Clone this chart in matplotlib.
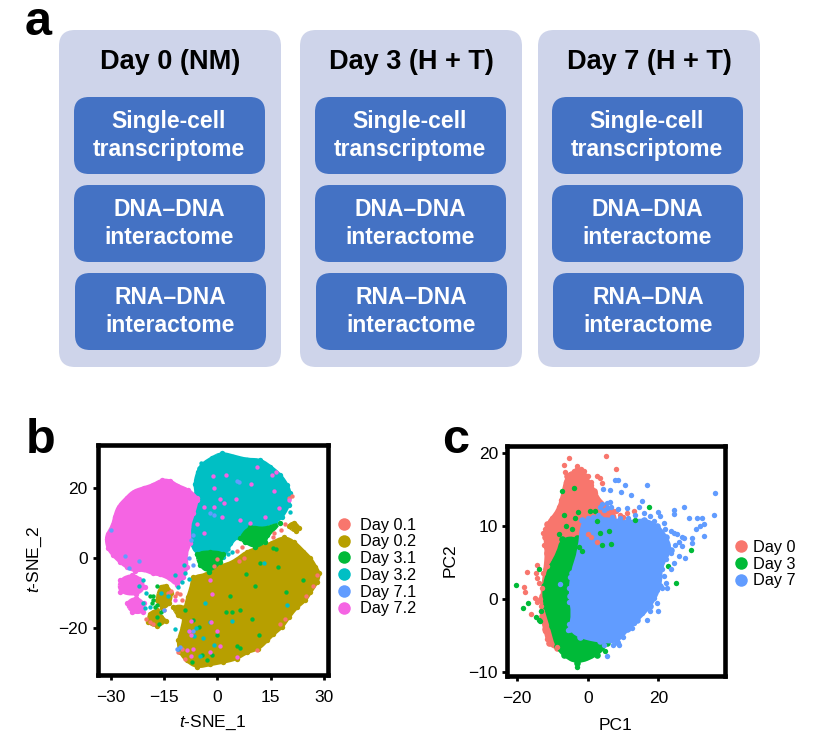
import matplotlib
matplotlib.use("Agg")
import matplotlib.pyplot as plt
from matplotlib.lines import Line2D
from matplotlib.patches import FancyBboxPatch, PathPatch
from matplotlib.path import Path

plt.rcParams['font.family'] = ['Liberation Sans', 'DejaVu Sans']
plt.rcParams['mathtext.fontset'] = 'custom'
plt.rcParams['mathtext.it'] = 'Liberation Sans:italic'
plt.rcParams['mathtext.rm'] = 'Liberation Sans'

W, H = 819, 748

# panel a text
columns = ["Day 0 (NM)", "Day 3 (H + T)", "Day 7 (H + T)"]
assays = ["Single-cell\ntranscriptome", "DNA\u2013DNA\ninteractome", "RNA\u2013DNA\ninteractome"]

# panel b, ggplot colours
b_labels = ["Day 0.1", "Day 0.2", "Day 3.1", "Day 3.2", "Day 7.1", "Day 7.2"]
b_colors = ["#F8766D", "#B79F00", "#00BA38", "#00BFC4", "#619CFF", "#F564E3"]

# dense clusters of panel b, outlines
magenta_main = [(-5.8, 17), (-8.2, 19.3), (-11.4, 20.5), (-13.3, 21.9), (-15.7, 22.1), (-18, 20.7), (-20.8, 19.8),
                (-23.6, 18.9), (-25.5, 17), (-27.8, 14.6), (-28.8, 11.7), (-29.3, 9.3), (-30.7, 6.9), (-31.2, 5.4),
                (-30.7, 2.7), (-29.3, 0.8), (-27.4, -1.1), (-25.5, -2.6), (-23.2, -3.7), (-20.8, -3.3), (-18, -4.5),
                (-16.1, -4.7), (-13.3, -5.9), (-11.4, -7.8), (-9.6, -5.4), (-8.6, -2.6), (-9.1, 1.2), (-7.7, 4.1),
                (-8.2, 8.9), (-6.8, 12.7), (-5.8, 16.5)]
magenta_low1 = [(-27.4, -6.4), (-24, -5), (-22, -6), (-20.5, -8.5), (-23, -10.5), (-27.5, -9.7)]
magenta_low2 = [(-25.5, -13), (-23, -11.5), (-20.8, -13), (-21, -15.5), (-24, -15.5)]
cyan_main = [(1.2, 29.8), (4.5, 28.9), (8.3, 27.9), (12, 27.9), (14.8, 26), (17.6, 23.6), (19.5, 20.8), (20.4, 18.4),
             (20, 15), (18.1, 11.7), (16.2, 10.3), (12.9, 9.3), (9.2, 7.4), (5.4, 6), (3.6, 4.1), (1.7, 0.3),
             (-2.1, 1.2), (-5.8, 1.2), (-7.2, 4.1), (-8.2, 7.9), (-7.2, 11.2), (-6.3, 14.6), (-5.8, 18.4),
             (-6.3, 21.2), (-5.4, 24.6), (-4.4, 26.5), (-1.6, 28.4)]
green_low = [(-5.8, 1.2), (-2, 1.6), (1.7, 1.2), (0.8, -1.1), (-2.5, -4), (-4.9, -2.1)]
green_right = [(6.4, 5.5), (9.2, 8.9), (13, 8), (17.6, 9.8), (13.9, 6.5), (13.4, 4.6), (10.6, 3.1), (7.8, 4.6)]
olive_main = [(18.6, 5.8), (21.4, 4.6), (24.2, 1.7), (26.1, -0.2), (27.5, -2.6), (28.6, -4.5), (28, -6.9), (26.1, -9.7),
              (24.7, -12.1), (22.3, -14), (20, -16.9), (18.1, -19.8), (15.7, -21.7), (13.9, -23.6), (11.5, -26),
              (8.2, -26.9), (5.4, -28.8), (1.7, -29.7), (-2.1, -30.4), (-5.8, -31.2), (-8.7, -29.3), (-10.5, -26.9),
              (-11, -23.6), (-9.6, -19.8), (-9.1, -14.9), (-8.2, -11.2), (-7.2, -8.3), (-6.8, -5.5), (-3, -5),
              (-0.2, -2.6), (2.6, -2.1), (5.4, -0.7), (8.3, 1.7), (12, 2.7), (15.3, 4.1)]
olive_small1 = [(20, 9), (21.5, 10), (23, 8.5), (22, 7.5)]
olive_small2 = [(-16, -8.5), (-14.5, -8), (-13, -10), (-13.5, -13), (-15.5, -14.5), (-17, -12)]
olive_small3 = [(-19, -16), (-17, -15), (-16, -17), (-14.5, -18), (-17, -19.5), (-19.5, -18.5)]
olive_tail = [(-12.5, -14), (-9, -14), (-9, -17.5), (-11, -16.5)]

# single cells of panel b
b_red = [(21, 17.5), (20.2, 17), (-13, -9.5), (-11.5, -10), (-10.5, -10.5), (-12, -11), (-14, -10), (-10, -12),
         (-15, -15), (-20, -17.5), (-19, -18.5), (-18, -19), (19, 9.5), (18, 8), (15.5, 6), (16, 7), (25, -11),
         (28, -5), (27, -8), (19, -17.5), (17.5, -19), (11, -26.5), (-10, -26), (-11, -27), (-9, -29), (7.5, 0),
         (6, -1), (0, -0.5), (-1, -2.5), (5.5, 2), (7, 3)]
b_green = [(12, -1.4), (17, -2.6), (7.9, -4.7), (10.6, -8), (24, -6.4), (19.3, -9.7), (3.6, -10.9), (4, -15.4),
           (2.4, -15.4), (6.4, -15), (9.6, -17.6), (11.6, -22), (5.4, -25.2), (6.4, -25.9), (-0.2, -22),
           (-1.6, -27.8), (-3, -29.2), (-7.2, -29.7), (-4.4, -27.8), (-5.3, -19.8), (-7, -17.9), (15.5, 2.9),
           (16.5, 2.5), (-17, -8), (-18, -12), (-18.5, -13), (-17.5, -14), (-19, -11), (-16, -15.5), (-17, -13.5),
           (-18, -11), (-16.5, -19), (-17, -17), (-9, -15)]
b_cyan = [(13, -1.5), (19.5, -13.5), (-3.5, -13), (-2, -18.5), (-8, -21), (-11, -26), (-6.5, -22.5), (-4, -23),
          (-5, -28), (-1, -25), (-6, -20), (4.2, -18), (-12, -20.5), (-21, -6.5), (-22, -8), (-20, -10), (-21, -13),
          (-20.5, -14.5), (-19, -14), (-16, -10), (-14, -11), (-8, -6), (-9, -4.5), (-12, -5), (-10, -7), (-11, -8.5),
          (-9.5, -2), (3, 2.5), (2.8, 3.5), (3, 1), (4, 1.7), (-4.5, 27), (-5.2, 25.5), (20.5, 13)]
b_blue = [(5.5, 21.8), (6, 21.5), (-2, 12.9), (-1, 12.3), (-7.5, 5), (-7, 6.5), (-30, 8), (-26, 0.5), (-25, -3),
          (-22, -1), (-8, 0), (-15, -15), (-7, -2), (-11.5, -26), (-10.5, -25.5), (-7, -21)]
b_magenta = [(-1.3, 23.4), (2.3, 23.6), (11, 25.8), (15.3, 23.6), (16.4, 24.4), (-1.1, 19.8), (0.8, 16.7), (1.9, 15.7),
             (5.3, 16.7), (9.5, 21), (15.8, 19), (20, 16.5), (17.2, 14.1), (13.4, 11.5), (9.2, 9.8), (6.4, 10.8),
             (1.2, 11.5), (-3.9, 7), (-5.8, 9.6), (-3.9, 14.6), (-1.1, 14.6), (-1.6, -10.4), (0.7, -25.2), (-7, -26),
             (-8.5, -26.5), (-7.5, -28), (-1.7, -18.5), (0, -21), (-2, -27), (5.5, -28.5), (-8, -21), (-7.5, -22),
             (-7.5, -18), (-12, -12), (-2, -6.5)]

# panel c
c_labels = ["Day 0", "Day 3", "Day 7"]
c_colors = ["#F8766D", "#00BA38", "#619CFF"]
red_body = [(-3, 17.6), (-0.7, 16.8), (1.7, 14.8), (3.6, 13.1), (7, 12), (8, 10.5), (3, 8),
            (-2, 3), (-6.8, -6.1), (-8.7, -6.8), (-11, -6.1), (-12, -4.2), (-12.9, -2.4), (-12.9, 0.3), (-11.9, 4),
            (-11.5, 6.3), (-12, 8.5), (-11.5, 10.2), (-8.2, 12), (-6.8, 14.5), (-5.8, 16.8)]
green_body = [(-3, 8.3), (-7.3, 8.1), (-8.2, 6.3), (-10.5, 4.4), (-12.4, 1.7), (-12, -1), (-10.1, -3.8), (-8.7, -6.5),
              (-6.8, -7.7), (-3, -8.8), (2.6, -7.7), (5.5, -6.1), (0.8, -3.8), (-4, -1.5), (-4, 2.1), (-1.1, 6.3)]
blue_body = [(-1.6, 10.8), (3.6, 11), (12, 10.4), (15.8, 10.8), (19.6, 10), (22, 8.5), (23.5, 6.7), (20.5, 4.4),
             (20.5, 1.7), (17.7, -1), (13.9, -2.9), (11.1, -4.2), (8.3, -5.9), (3.6, -5.8), (-2.1, -5.2), (-4.9, -4.2),
             (-4, -2), (-4.9, 0.3), (-4.4, 3.5), (-2.1, 6.7)]
c_red = [(-5.4, 19.3), (5.2, 19.5), (-6.8, 18.3), (-3, 18.1), (8, 17.7), (-6.3, 17.4), (2.6, 16.8), (3.6, 16.5), (0.8, 16),
         (4, 15.8), (-17.1, 3.6), (-17.9, 1.6), (-17.6, 0.9), (-14.3, 4.6), (-14.7, 3.5), (-14.3, 2.8), (-13.8, 2.1),
         (-14.8, 0.1), (-14.3, -0.5), (-16, -2.1), (-13.1, -1.7), (-12.4, 7.4), (-11, -6.1), (-8.7, -6.6), (-11.1, -5.2),
         (11, 11.7), (13.2, 12), (-11.5, 10), (-12, 9.5), (-12.5, 9), (-11.5, 8), (-11.8, 7), (-11, 5.5), (-11.5, 4.5),
         (-12.5, 3.5), (-13, 1.5), (-13.5, 0), (-13.3, -1), (-13, -3), (-12, -4.5), (-11.5, -5.5), (-8, 12.5), (-7.5, 13.5),
         (-6.5, 15), (-6, 16), (-5, 17), (-4, 17.5), (-2, 17.8), (-1, 17.5), (0, 16.8), (1, 15.5), (2, 14.5), (3, 13.5),
         (-9, 11.5), (-10, 11), (8, 12), (9, 11.5), (10, 11.2), (1, 8.4), (0, 8.8), (2.5, 7.8)]
c_green = [(-20.2, 1.9), (-17, -0.6), (-18.3, -1.3), (-14.5, -2.5), (-13.8, -2.9), (-13.4, -3.1), (-13.2, -1.7), (-13.7, 4),
           (-7.3, 14.8), (-3.8, 15.2), (-2.8, 11.8), (-6.8, 11.4), (-3.5, 11), (-6, 10), (-8.2, 8.8), (-4.4, 9.5), (0.6, 12),
           (2.2, 12), (17.2, 12.6), (29.3, 6.6), (25, 2.1), (22.7, 4.4), (5, -7.2), (-3, -9.3), (2.6, 10.6), (5.9, 9.2),
           (13.5, 10.8), (-1.5, 6.5), (-2.5, 7), (4, 7.4), (6.5, 7.5), (3.4, 9)]
c_blue = [(35.9, 14.4), (35.8, 11.4), (16.8, 15.5), (7.6, 16.2), (8.6, 16.2), (9.3, 14.6), (10.6, 15.5), (6.2, 14.9),
          (4.3, 15), (12.1, 14.2), (15.3, 13.3), (14.4, 12.6), (8.6, 12.3), (11, 12.4), (4, 12.9), (5.5, 13.1), (6.4, 13.2),
          (27.3, 12.6), (24.3, 12.2), (24.3, 11.6), (19.9, 11.9), (20.5, 11.3), (28.5, 11), (30.9, 11), (32.3, 11),
          (32.8, 10.2), (31.8, 9.9), (30.6, 9.5), (32.8, 8.6), (29.5, 8.3), (29.5, 7.6), (27.1, 8.3), (26.6, 7.2),
          (25.7, 5.8), (27.6, 5.5), (24.3, 4.9), (23.4, 4), (24.3, 9), (22.4, 1.5), (21, 1.4), (19.6, -0.6), (20, -1.7),
          (17.7, -1.7), (16.8, -2.9), (12.5, -4), (8.8, -6.4), (5.5, -7.8), (-7.7, 2),
          (15.8, 11.7), (17.7, 11.3), (18.7, 10.6), (21.5, 10.4), (21.9, 9.5), (23.4, 9.3), (25.3, 8.8), (26.6, 8.5),
          (25.7, 7.8), (24.8, 7.4), (23.4, 6.3), (22, 5.4), (21, 4), (21.5, 3.1), (22, 2.2), (19.6, 1.2), (18.7, 0.1),
          (16.8, -1), (15.4, -2), (13.1, -3.3), (11.3, -4.2), (9.9, -5.2), (8.5, -6.1), (7.1, -6.4), (4.7, -6.3),
          (3.5, 12.6), (4.5, 12.2), (5.5, 12.4), (6.5, 12.5), (0, 11), (1.5, 11.2), (3, 11.4), (7, 11.2), (9, 11), (11.5, 11),
          (13.5, 11.4), (-5, 3), (-5.2, 1.5), (-5.3, -0.5), (-5.2, -3.5), (-5.5, -4.3)]


def px_axes(left, top, right, bottom, **kw):
    return fig.add_axes([left / W, 1 - bottom / H, (right - left) / W, (bottom - top) / H], **kw)


def blob(ax, pts, color, size, z):
    # outline points act as control points, so the edge comes out rounded
    mids = [((pts[i][0] + pts[i - 1][0]) / 2, (pts[i][1] + pts[i - 1][1]) / 2) for i in range(len(pts))]
    verts = [mids[0]]
    codes = [Path.MOVETO]
    for i in range(len(pts)):
        verts += [pts[i], mids[(i + 1) % len(pts)]]
        codes += [Path.CURVE3, Path.CURVE3]
    ax.add_patch(PathPatch(Path(verts, codes), fc=color, ec=color, lw=3, zorder=z))
    xs, ys = zip(*pts)
    ax.scatter(xs, ys, s=size * 1.5, color=color, linewidths=0, zorder=z)


def cells(ax, pts, color, size, z=5):
    xs, ys = zip(*pts)
    ax.scatter(xs, ys, s=size, color=color, linewidths=0, zorder=z)


def style(ax, xpad, ypad):
    for s in ax.spines.values():
        s.set_linewidth(3.3)
    ax.tick_params(width=2, length=3.5, labelsize=12.5)
    ax.tick_params(axis='x', pad=xpad)
    ax.tick_params(axis='y', pad=ypad)
    ax.set_facecolor("white")


def dot_legend(ax, labels, colors, x_px, y_px, textpad):
    handles = [Line2D([], [], ls='', marker='o', ms=9, color=c, mew=0) for c in colors]
    ax.legend(handles, labels, loc='center left', bbox_to_anchor=(x_px / W, 1 - y_px / H),
              bbox_transform=fig.transFigure, frameon=False, fontsize=11.7, borderpad=0, borderaxespad=0,
              labelspacing=0.11, handlelength=1.0, handletextpad=textpad)


fig = plt.figure(figsize=(W / 100, H / 100), dpi=100)

# panel a is a diagram, drawn in pixel space
canvas = fig.add_axes([0, 0, 1, 1])
canvas.set_xlim(0, W)
canvas.set_ylim(H, 0)
canvas.axis('off')

outer_left = [59, 300, 538]
inner_left = [74, 315, 552]
row_top = [97, 185, 273]
for col, name in enumerate(columns):
    x0 = outer_left[col]
    canvas.add_patch(FancyBboxPatch((x0 + 16, 30 + 16), 222 - 32, 337 - 32, boxstyle="round,pad=16,rounding_size=16",
                                    fc="#CED4EA", ec="none", zorder=1))
    canvas.text(x0 + 111, 62, name, ha='center', va='center', fontsize=19.5, fontweight='bold', zorder=3)
    for row, assay in enumerate(assays):
        shift = 1 if row == 2 else 0
        bx = inner_left[col] + shift
        canvas.add_patch(FancyBboxPatch((bx + 15, row_top[row] + 15), 191 - 30, 77 - 30,
                                        boxstyle="round,pad=15,rounding_size=15", fc="#4472C4", ec="none", zorder=2))
        canvas.text(bx + 95, row_top[row] + 38.5, assay, ha='center', va='center', color='white',
                    fontsize=16.5, fontweight='bold', linespacing=1.25, zorder=3)

for letter, x, y in [("a", 25, 35), ("b", 26, 453), ("c", 442, 453)]:
    canvas.text(x, y, letter, fontsize=35, fontweight='bold', ha='left', va='baseline')

# panel b
ax_b = px_axes(98, 445, 328, 675)
ax_b.set_xlim(-33.6, 31.1)
ax_b.set_ylim(-33.5, 32.2)
blob(ax_b, olive_main, b_colors[1], 10, 2)
blob(ax_b, olive_small1, b_colors[1], 10, 2)
blob(ax_b, olive_small2, b_colors[1], 10, 2)
blob(ax_b, olive_small3, b_colors[1], 10, 2)
blob(ax_b, olive_tail, b_colors[1], 10, 2)
blob(ax_b, cyan_main, b_colors[3], 10, 2.5)
blob(ax_b, green_low, b_colors[2], 10, 3)
blob(ax_b, green_right, b_colors[2], 10, 3)
blob(ax_b, magenta_main, b_colors[5], 10, 3.5)
blob(ax_b, magenta_low1, b_colors[5], 10, 3.5)
blob(ax_b, magenta_low2, b_colors[5], 10, 3.5)
cells(ax_b, b_red, b_colors[0], 10)
cells(ax_b, b_green, b_colors[2], 10)
cells(ax_b, b_cyan, b_colors[3], 10)
cells(ax_b, b_blue, b_colors[4], 10)
cells(ax_b, b_magenta, b_colors[5], 10)
ax_b.set_xticks([-30, -15, 0, 15, 30])
ax_b.set_yticks([-20, 0, 20])
style(ax_b, 7, 4)
dot_legend(ax_b, b_labels, b_colors, 336, 567, 0.47)
canvas.text(212, 723, r"$\mathit{t}$-SNE_1", ha='center', va='center', fontsize=12.5)
canvas.text(35, 560, r"$\mathit{t}$-SNE_2", ha='center', va='center', fontsize=12.5, rotation=90)

# panel c
ax_c = px_axes(507, 446, 725, 676)
ax_c.set_xlim(-22.8, 38.8)
ax_c.set_ylim(-10.6, 20.9)
blob(ax_c, red_body, c_colors[0], 15, 2)
blob(ax_c, green_body, c_colors[1], 15, 3)
blob(ax_c, blue_body, c_colors[2], 15, 4)
cells(ax_c, c_red, c_colors[0], 15)
cells(ax_c, c_green, c_colors[1], 15)
cells(ax_c, c_blue, c_colors[2], 15)
ax_c.set_xticks([-20, 0, 20])
ax_c.set_yticks([-10, 0, 10, 20])
style(ax_c, 7.5, 3)
dot_legend(ax_c, c_labels, c_colors, 733, 564, 0.23)
canvas.text(615, 725, "PC1", ha='center', va='center', fontsize=12.5)
canvas.text(450, 560, "PC2", ha='center', va='center', fontsize=12.5, rotation=90)

fig.savefig("out.png", dpi=100)
